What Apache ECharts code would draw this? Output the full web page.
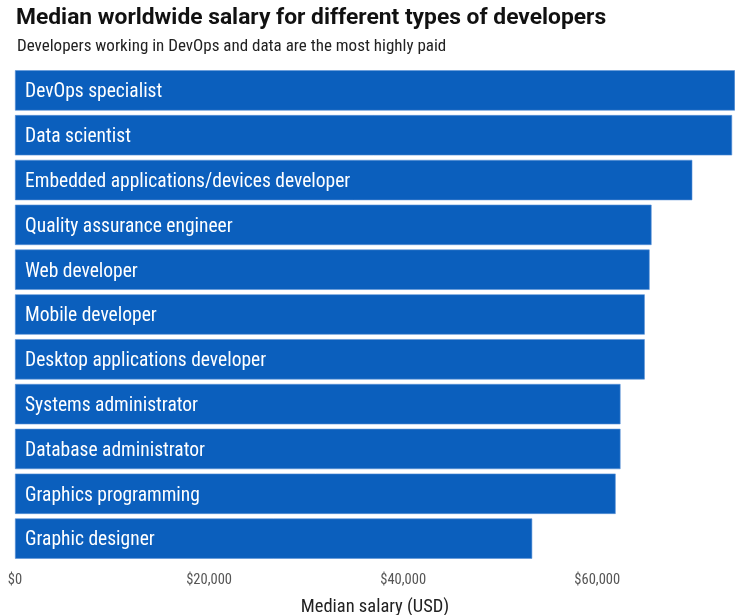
<!DOCTYPE html>
<html>
<head>
<meta charset="utf-8">
<script src="https://cdn.jsdelivr.net/npm/echarts@6/dist/echarts.min.js"></script>
<style>
  html, body { margin: 0; padding: 0; background: #ffffff; }
  #chart { width: 735px; height: 615px; }
</style>
</head>
<body>
<div id="chart"></div>
<script>
// Developer roles, highest paid first
const roles = [
  'DevOps specialist',
  'Data scientist',
  'Embedded applications/devices developer',
  'Quality assurance engineer',
  'Web developer',
  'Mobile developer',
  'Desktop applications developer',
  'Systems administrator',
  'Database administrator',
  'Graphics programming',
  'Graphic designer'
];

// Median worldwide salary in USD
const salaries = [74200, 73900, 69800, 65600, 65400, 64900, 64900, 62400, 62400, 61900, 53300];

// X-axis ticks
const tickValues = [0, 20000, 40000, 60000];

const FONT = '"Roboto Condensed", "Liberation Sans Narrow", "DejaVu Sans Condensed", Roboto, sans-serif';
const TITLE_FONT = 'Roboto, "Noto Sans", sans-serif';

const chart = echarts.init(document.getElementById('chart'), null, { renderer: 'canvas' });

chart.setOption({
  animation: false,
  backgroundColor: '#ffffff',
  title: [
    {
      text: 'Median worldwide salary for different types of developers',
      left: 11, top: 2,
      textStyle: { fontFamily: TITLE_FONT, fontSize: 22.8, fontWeight: 'bold', color: '#111111' }
    },
    {
      text: 'Developers working in DevOps and data are the most highly paid',
      left: 12, top: 33,
      textStyle: { fontFamily: FONT, fontSize: 17, fontWeight: 'normal', color: '#222222' }
    }
  ],
  grid: { left: 15, right: 0, top: 68, height: 493, containLabel: false, outerBoundsMode: 'none' },
  xAxis: {
    type: 'value',
    min: 0,
    max: salaries[0],
    interval: 20000,
    splitLine: { show: false },
    axisLine: { show: false },
    axisTick: { show: false },
    axisLabel: {
      fontFamily: FONT, fontSize: 14.5, color: '#555555', margin: 12,
      showMaxLabel: false,
      formatter: v => tickValues.includes(v) ? '$' + v.toLocaleString('en-US') : ''
    },
    name: 'Median salary (USD)',
    nameLocation: 'middle',
    nameGap: 37,
    nameTextStyle: { fontFamily: FONT, fontSize: 18.5, color: '#222222' }
  },
  yAxis: {
    type: 'category',
    data: roles,
    inverse: true,
    axisLine: { show: false },
    axisTick: { show: false },
    axisLabel: { show: false },
    splitLine: { show: false }
  },
  series: [{
    type: 'bar',
    data: salaries,
    barCategoryGap: '10%',
    itemStyle: { color: '#0b5fbd', borderColor: '#5a92d6', borderWidth: 0.6 },
    label: {
      show: true,
      position: 'insideLeft',
      distance: 10,
      offset: [0, 2],
      formatter: p => roles[p.dataIndex],
      fontFamily: FONT, fontSize: 19.5, color: '#ffffff'
    }
  }]
});
</script>
</body>
</html>
